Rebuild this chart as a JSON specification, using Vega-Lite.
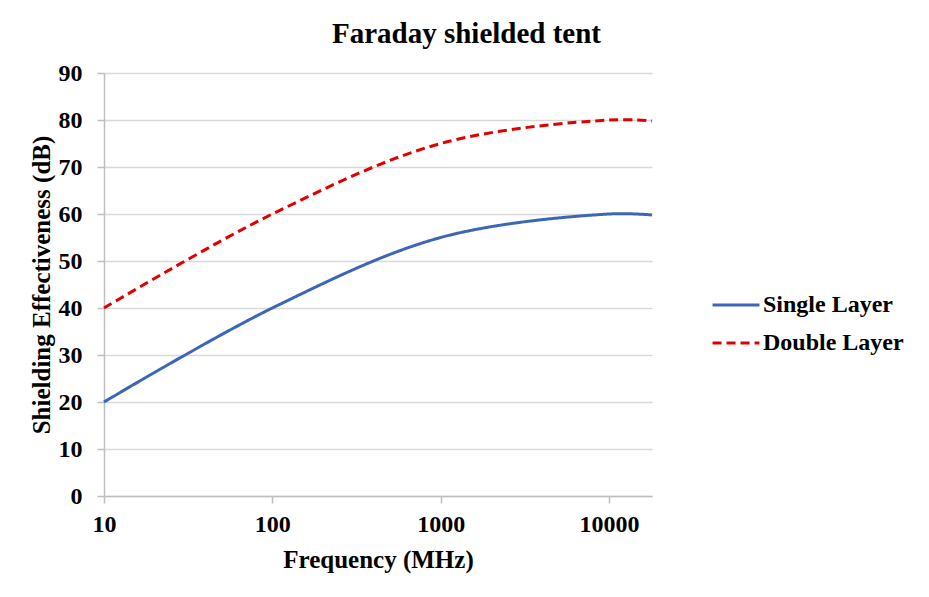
{
  "$schema": "https://vega.github.io/schema/vega-lite/v6.json",
  "autosize": "none",
  "padding": {"left": 104, "top": 73, "right": 277, "bottom": 101},
  "width": 548,
  "height": 423,
  "background": "white",
  "title": {
    "text": "Faraday shielded tent",
    "font": "Liberation Serif",
    "fontSize": 29,
    "fontWeight": "bold",
    "color": "#000000",
    "anchor": "middle",
    "frame": "bounds",
    "offset": 12
  },
  "data": {
    "values": [
      {"freq": 10, "se": 20, "series": "Single Layer"},
      {"freq": 100, "se": 40, "series": "Single Layer"},
      {"freq": 1000, "se": 55, "series": "Single Layer"},
      {"freq": 10000, "se": 60, "series": "Single Layer"},
      {"freq": 18000, "se": 59.8, "series": "Single Layer"},
      {"freq": 10, "se": 40, "series": "Double Layer"},
      {"freq": 100, "se": 60, "series": "Double Layer"},
      {"freq": 1000, "se": 75, "series": "Double Layer"},
      {"freq": 10000, "se": 80, "series": "Double Layer"},
      {"freq": 18000, "se": 79.8, "series": "Double Layer"}
    ]
  },
  "mark": {"type": "line", "interpolate": "catmull-rom", "strokeWidth": 3, "clip": false},
  "encoding": {
    "x": {
      "field": "freq",
      "type": "quantitative",
      "scale": {"type": "log", "domain": [10, 18000], "nice": false},
      "axis": {
        "title": "Frequency (MHz)",
        "values": [10, 100, 1000, 10000],
        "format": "d",
        "grid": false,
        "tickSize": 7,
        "labelFlush": false,
        "labelPadding": 9,
        "titlePadding": 11
      }
    },
    "y": {
      "field": "se",
      "type": "quantitative",
      "scale": {"domain": [0, 90], "nice": false},
      "axis": {
        "title": "Shielding Effectiveness (dB)",
        "values": [0, 10, 20, 30, 40, 50, 60, 70, 80, 90],
        "grid": true,
        "tickSize": 7,
        "labelPadding": 15,
        "titlePadding": 4
      }
    },
    "color": {
      "field": "series",
      "type": "nominal",
      "scale": {"domain": ["Single Layer", "Double Layer"], "range": ["#3E66B6", "#E00000"]},
      "legend": {
        "title": null,
        "orient": "none",
        "legendX": 607,
        "legendY": 207,
        "symbolType": "stroke",
        "symbolSize": 2200,
        "symbolStrokeWidth": 3,
        "labelFont": "Liberation Serif",
        "labelFontSize": 24,
        "labelFontWeight": "bold",
        "labelColor": "#000000",
        "rowPadding": 1,
        "labelOffset": 2
      }
    },
    "strokeDash": {
      "field": "series",
      "type": "nominal",
      "scale": {"domain": ["Single Layer", "Double Layer"], "range": [[1, 0], [9, 5]]},
      "legend": null
    }
  },
  "config": {
    "view": {"stroke": null},
    "axis": {
      "labelFont": "Liberation Serif",
      "labelFontSize": 24,
      "labelFontWeight": "bold",
      "labelColor": "#000000",
      "titleFont": "Liberation Serif",
      "titleFontSize": 25,
      "titleFontWeight": "bold",
      "titleColor": "#000000",
      "domainColor": "#BFBFBF",
      "domainWidth": 1.5,
      "tickColor": "#BFBFBF",
      "tickWidth": 1.5,
      "gridColor": "#D9D9D9",
      "gridWidth": 1.5
    }
  }
}
